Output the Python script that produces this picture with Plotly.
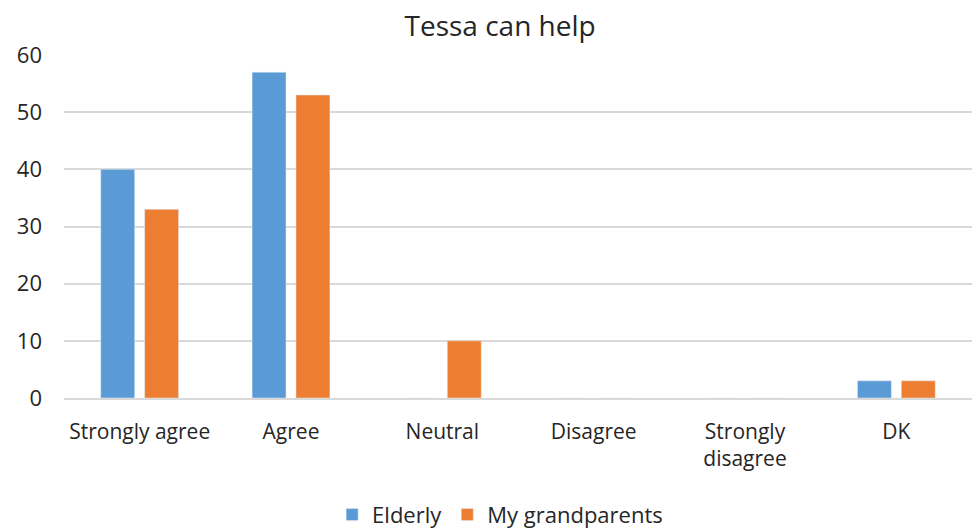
import plotly.graph_objects as go

categories = ["Strongly agree", "Agree", "Neutral", "Disagree", "Strongly<br>disagree", "DK"]
elderly = [40, 57, 0, 0, 0, 3]
grandparents = [33, 53, 10, 0, 0, 3]
y_ticks = [0, 10, 20, 30, 40, 50, 60]

FONT = "Open Sans"
TEXT = "#262626"

fig = go.Figure()
fig.add_trace(go.Bar(x=categories, y=elderly, name="Elderly", marker_color="#5B9BD5"))
fig.add_trace(go.Bar(x=categories, y=grandparents, name="My grandparents", marker_color="#ED7D31"))

fig.update_layout(
    width=973, height=528,
    margin=dict(l=64, r=1, t=55, b=130),
    paper_bgcolor="white", plot_bgcolor="white",
    barmode="group", bargap=0.42, bargroupgap=0.227,
    title=dict(text="Tessa can help", x=0.514, xanchor="center", xref="container",
               y=0.95, yanchor="middle", yref="container",
               font=dict(family=FONT, size=28, color=TEXT)),
    font=dict(family=FONT, size=21, color=TEXT),
    showlegend=True,
    legend=dict(orientation="h", x=0.514, xanchor="center", xref="container",
                y=0.025, yanchor="middle", yref="container",
                font=dict(family=FONT, size=22, color=TEXT),
                itemwidth=30, tracegroupgap=0),
)
fig.update_yaxes(range=[0, 60], tickvals=y_ticks, showgrid=True, gridcolor="#D9D9D9",
                 gridwidth=1.5, zeroline=False, showline=False, ticks="",
                 ticklabelstandoff=21, tickfont=dict(size=22, color=TEXT))
fig.update_xaxes(showline=True, linecolor="#D9D9D9", linewidth=1.5, ticks="",
                 ticklabelstandoff=14, tickfont=dict(size=21, color=TEXT))

fig.write_html("out.html")
